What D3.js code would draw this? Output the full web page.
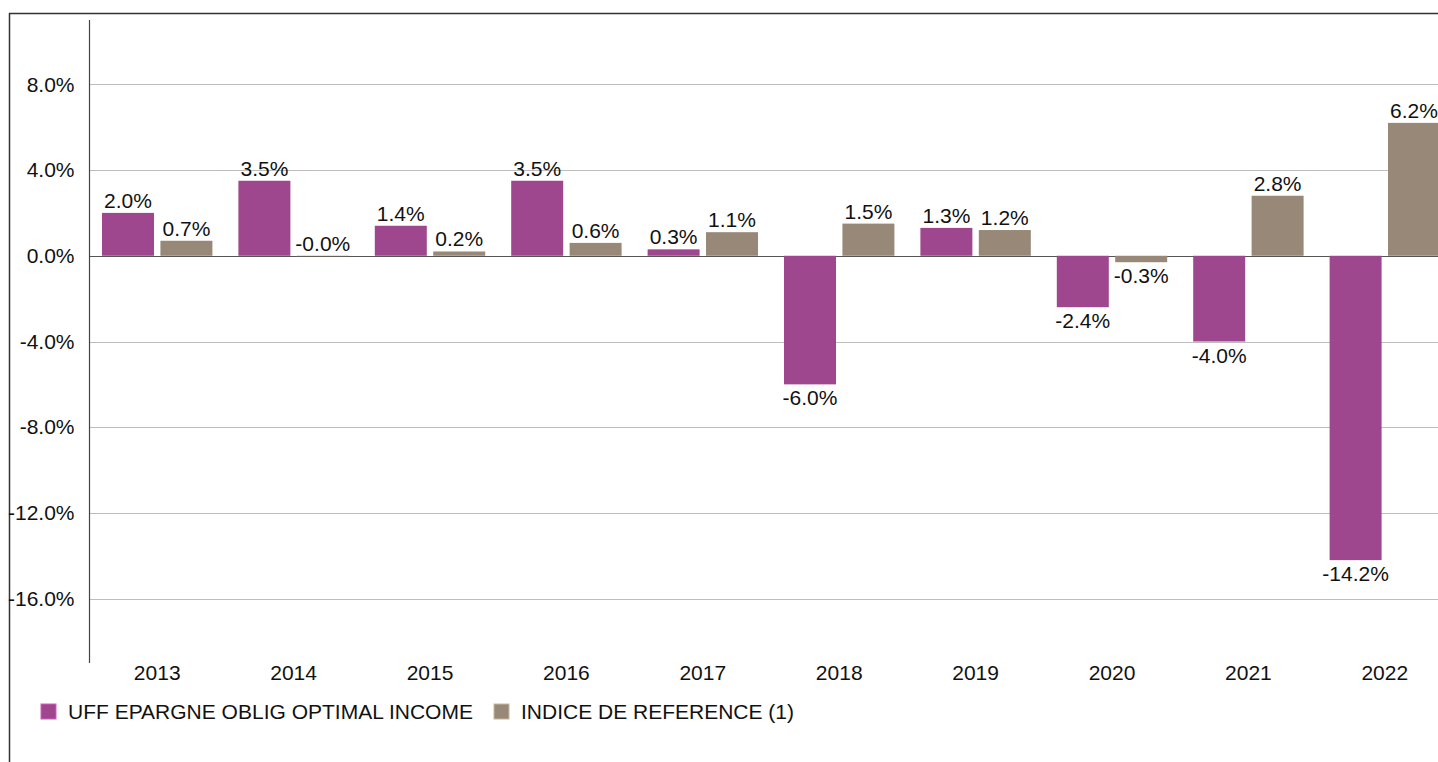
<!DOCTYPE html>
<html>
<head>
<meta charset="utf-8">
<script src="https://cdn.jsdelivr.net/npm/d3@7"></script>
<style>
  body { margin: 0; background: #fff; }
  svg { display: block; font-family: "Liberation Sans", Arial, sans-serif; }
</style>
</head>
<body>
<div id="chart-area"></div>
<script>
// data
var years = ["2013", "2014", "2015", "2016", "2017", "2018", "2019", "2020", "2021", "2022"];
var fundValues = [2.0, 3.5, 1.4, 3.5, 0.3, -6.0, 1.3, -2.4, -4.0, -14.2];
var indexValues = [0.7, -0.02, 0.2, 0.6, 1.1, 1.5, 1.2, -0.3, 2.8, 6.2];
var seriesNames = ["UFF EPARGNE OBLIG OPTIMAL INCOME", "INDICE DE REFERENCE (1)"];
var yTicks = [-16, -12, -8, -4, 0, 4, 8];

var colors = ["#9e478f", "#978877"];

var W = 1438, H = 762;
var fontSize = 21;

var svg = d3.select("#chart-area")
	.append("svg")
	.attr("width", W)
	.attr("height", H);

// outer frame (top + left)
svg.append("line")
	.attr("x1", 9).attr("x2", W).attr("y1", 13.5).attr("y2", 13.5)
	.attr("stroke", "#333").attr("stroke-width", 1.5);
svg.append("line")
	.attr("x1", 9.5).attr("x2", 9.5).attr("y1", 13).attr("y2", H)
	.attr("stroke", "#333").attr("stroke-width", 1.5);

// scales
var x0 = d3.scaleBand()
	.domain(years)
	.range([89, 1453])
	.paddingInner(0)
	.paddingOuter(0);

var x1 = d3.scaleBand()
	.domain([0, 1])
	.range([13, x0.bandwidth() - 13])
	.paddingInner(0.11);

var y = d3.scaleLinear()
	.domain([-19, 11])
	.range([663, 20]);

// plain hyphen minus, keeps "-0.0%"
var fmt = function(v){ return v.toFixed(1) + "%"; };

// gridlines
svg.append("g")
	.selectAll("line")
	.data(yTicks)
	.enter()
	.append("line")
	.attr("x1", 89)
	.attr("x2", W)
	.attr("y1", function(d){ return Math.round(y(d)) + 0.5; })
	.attr("y2", function(d){ return Math.round(y(d)) + 0.5; })
	.attr("stroke", function(d){ return d === 0 ? "#555" : "#bdbdbd"; })
	.attr("stroke-width", 1);

// y axis
var yAxisCall = d3.axisLeft(y)
	.tickValues(yTicks)
	.tickSize(0)
	.tickPadding(15)
	.tickFormat(fmt);

var yAxisGroup = svg.append("g")
	.attr("transform", "translate(89.5, 0)")
	.call(yAxisCall);
yAxisGroup.select(".domain").remove();
yAxisGroup.selectAll("text")
	.attr("font-size", fontSize)
	.attr("font-family", "Liberation Sans, Arial, sans-serif")
	.attr("fill", "#111");

svg.append("line")
	.attr("x1", 89.5).attr("x2", 89.5)
	.attr("y1", y(11)).attr("y2", y(-19))
	.attr("stroke", "#444").attr("stroke-width", 1.2);

// x axis labels
var xAxisCall = d3.axisBottom(x0).tickSize(0).tickPadding(0);
var xAxisGroup = svg.append("g")
	.attr("transform", "translate(0, 665)")
	.call(xAxisCall);
xAxisGroup.select(".domain").remove();
xAxisGroup.selectAll("text")
	.attr("font-size", fontSize)
	.attr("font-family", "Liberation Sans, Arial, sans-serif")
	.attr("fill", "#111");

// bars
var rows = years.map(function(yr, i){
	return { year: yr, values: [fundValues[i], indexValues[i]] };
});

var groups = svg.selectAll("g.year")
	.data(rows)
	.enter()
	.append("g")
	.attr("class", "year")
	.attr("transform", function(d){ return "translate(" + x0(d.year) + ",0)"; });

var bars = groups.selectAll("g.bar")
	.data(function(d){ return d.values.map(function(v, s){ return { s: s, v: v }; }); })
	.enter()
	.append("g")
	.attr("class", "bar");

bars.append("rect")
	.attr("x", function(d){ return x1(d.s); })
	.attr("width", x1.bandwidth())
	.attr("y", function(d){ return Math.min(y(d.v), y(0)); })
	.attr("height", function(d){ return Math.abs(y(d.v) - y(0)); })
	.attr("fill", function(d){ return colors[d.s]; });

bars.append("text")
	.attr("x", function(d){ return x1(d.s) + x1.bandwidth() / 2; })
	.attr("y", function(d){
		// tiny negatives sit above the zero line
		if (d.v > -0.1) return y(Math.max(d.v, 0)) - 5;
		return y(d.v) + 21;
	})
	.attr("text-anchor", "middle")
	.attr("font-size", fontSize)
	.attr("fill", "#111")
	.text(function(d){ return fmt(d.v); });

// legend
var legend = svg.append("g")
	.attr("transform", "translate(41, 704)");

var legendX = [0, 453];
seriesNames.forEach(function(name, i){
	var row = legend.append("g")
		.attr("transform", "translate(" + legendX[i] + ", 0)");
	row.append("rect")
		.attr("width", 15)
		.attr("height", 15)
		.attr("fill", colors[i])
		.attr("stroke", d3.color(colors[i]).brighter(0.8))
		.attr("stroke-width", 1);
	row.append("text")
		.attr("x", 27)
		.attr("y", 15)
		.attr("font-size", fontSize)
		.attr("fill", "#111")
		.text(name);
});
</script>
</body>
</html>
